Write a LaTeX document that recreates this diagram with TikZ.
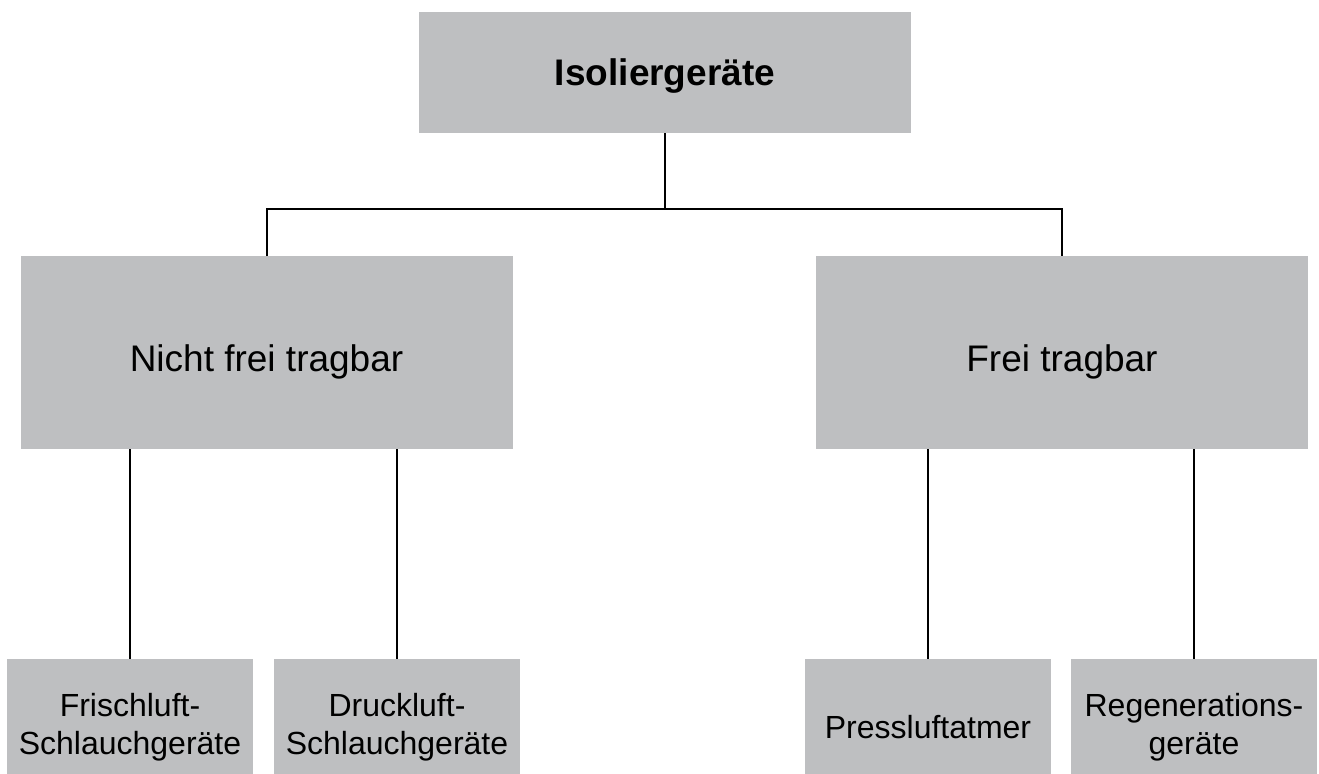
\documentclass[tikz,border=0pt]{standalone}
\usepackage{fontspec}
\setmainfont{Liberation Sans}
\definecolor{boxgrey}{RGB}{190,191,193}

\begin{document}
\begin{tikzpicture}[x=0.5pt,y=-0.5pt,line width=1pt,
   box/.style={fill=boxgrey,inner sep=0pt,outer sep=0pt,align=center},
   big/.style={box,minimum width=246pt,text depth=0pt,font=\fontsize{18.5}{22}\selectfont},
   small/.style={box,minimum width=123pt,minimum height=68pt,font=\fontsize{16}{19}\selectfont}]
   \useasboundingbox (0,0) rectangle (1319,773);
   \node[big,minimum height=60.5pt,font=\bfseries\fontsize{18.5}{22}\selectfont] (iso) at (665,72.5) {Isoliergeräte};
   \node[big,minimum height=96.5pt,text height=18.5pt] (nft) at (266.5,352.5) {Nicht frei tragbar};
   \node[big,minimum height=96.5pt,text height=18.5pt] (ft) at (1062,352.5) {Frei tragbar};
   \node[small] (fsg) at (130,727) {Frischluft-\\Schlauchgeräte};
   \node[small] (dsg) at (397,727) {Druckluft-\\Schlauchgeräte};
   \node[small] (pla) at (928,727) {Pressluftatmer};
   \node[small] (reg) at (1194,727) {Regenerations-\\geräte};
   \coordinate (bus) at (665,209);
   \draw (iso.south) -- (bus);
   \draw (nft.north) |- (bus) -| (ft.north);
   \foreach \up/\down in {nft/fsg,nft/dsg,ft/pla,ft/reg}
      \draw (\up.south -| \down.north) -- (\down.north);
\end{tikzpicture}
\end{document}
